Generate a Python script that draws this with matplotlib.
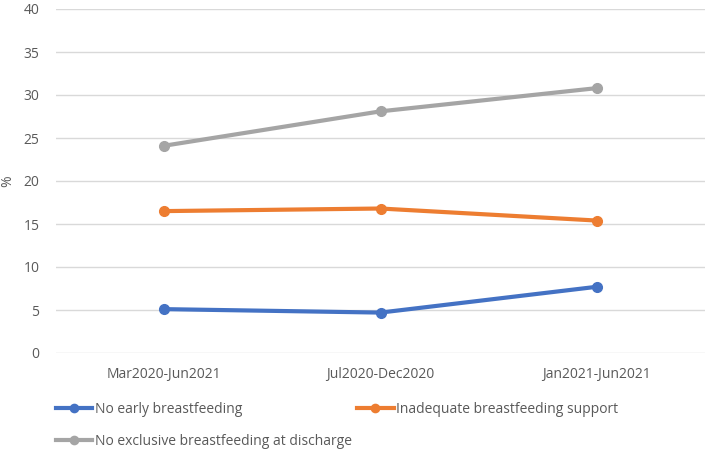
import matplotlib
matplotlib.use("Agg")
import matplotlib.pyplot as plt

categories = ["Mar2020-Jun2021", "Jul2020-Dec2020", "Jan2021-Jun2021"]
no_early = [5.1, 4.7, 7.7]
inadequate_support = [16.5, 16.8, 15.4]
no_exclusive = [24.1, 28.1, 30.8]
yticks = [0, 5, 10, 15, 20, 25, 30, 35, 40]

plt.rcParams['font.family'] = ['Open Sans', 'DejaVu Sans']
txt = '#595959'

fig = plt.figure(figsize=(7.09, 4.5), dpi=100)
ax = fig.add_axes([56/709, 1-353/450, 649/709, 344/450])

x = list(range(len(categories)))
h1, = ax.plot(x, no_early, color='#4472C4', lw=3, marker='o', ms=7, label='No early breastfeeding')
h2, = ax.plot(x, inadequate_support, color='#ED7D31', lw=3, marker='o', ms=7, label='Inadequate breastfeeding support')
h3, = ax.plot(x, no_exclusive, color='#A5A5A5', lw=3, marker='o', ms=7, label='No exclusive breastfeeding at discharge')

ax.set_xlim(-0.5, 2.5)
ax.set_ylim(0, 40)
ax.set_yticks(yticks)
ax.set_xticks(x)
ax.set_xticklabels(categories)
ax.grid(axis='y', color='#D9D9D9', lw=1)
ax.set_axisbelow(True)
for s in ax.spines.values():
    s.set_visible(False)
ax.tick_params(axis='both', length=0, colors=txt, labelsize=10)
ax.tick_params(axis='x', pad=10)
ax.tick_params(axis='y', pad=12)
ax.set_ylabel('%', color=txt, fontsize=10, labelpad=6)

leg = fig.legend(handles=[h1, h3, h2], loc='upper left', bbox_to_anchor=(56/709, 1-402/450),
                 ncol=2, frameon=False, fontsize=10, labelcolor=txt,
                 handlelength=2.6, handletextpad=0.2, columnspacing=0.4,
                 labelspacing=1.2, borderaxespad=0, borderpad=0, markerscale=0.85)

fig.savefig('out.png', dpi=100)
